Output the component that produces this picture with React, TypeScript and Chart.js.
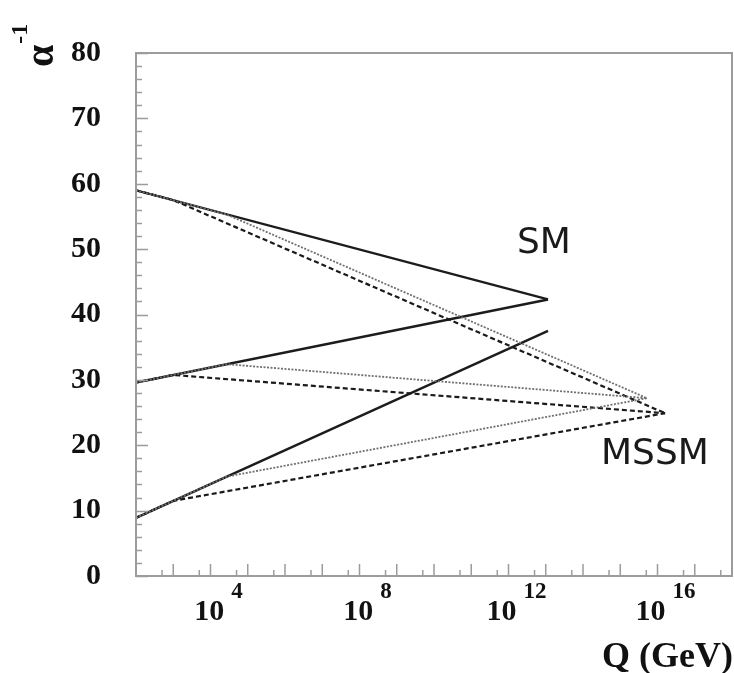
import React, { useEffect, useRef } from "react";
import { Chart, registerables } from "chart.js";

Chart.register(...registerables);

// Energy scale Q (GeV) of line vertices
const smQ = [1e2, 1.15e13];
const smInv1 = [59.0, 42.3];
const smInv2 = [29.6, 42.3];
const smInv3 = [8.9, 37.5];

// MSSM, threshold ~1 TeV (dashed)
const mssmDashQ = [1e2, 1e3, 1.6e16];
const mssmDash1 = [59.0, 57.5, 24.9];
const mssmDash2 = [29.6, 30.75, 24.9];
const mssmDash3 = [8.9, 11.5, 24.9];

// MSSM, higher threshold (dotted)
const mssmDotQ = [1e2, 2.7e4, 5.2e15];
const mssmDot1 = [59.0, 55.3, 27.2];
const mssmDot2 = [29.6, 32.4, 27.2];
const mssmDot3 = [8.9, 15.2, 27.2];

const xTickExponents = [4, 8, 12, 16];
const yTicks = [0, 10, 20, 30, 40, 50, 60, 70, 80];

const SERIF = "'Liberation Serif', 'DejaVu Serif', serif";
const SANS = "'DejaVu Sans', sans-serif";

function pts(q: number[], v: number[]) {
  return q.map((x, i) => ({ x, y: v[i] }));
}

const overlay = {
  id: "overlay",
  afterDraw(chart: any) {
    const ctx = chart.ctx as CanvasRenderingContext2D;
    const xs = chart.scales.x;
    const ys = chart.scales.y;
    const a = chart.chartArea;
    ctx.save();
    // frame
    ctx.strokeStyle = "#9c9c9c";
    ctx.lineWidth = 2;
    ctx.strokeRect(a.left, a.top, a.right - a.left, a.bottom - a.top);
    // y ticks (inward)
    ctx.lineWidth = 1.5;
    ctx.beginPath();
    for (let v = 0; v <= 80; v += 2) {
      const y = Math.round(ys.getPixelForValue(v)) + 0.5;
      const len = v % 10 === 0 ? 12 : 6;
      ctx.moveTo(a.left, y);
      ctx.lineTo(a.left + len, y);
    }
    // x ticks (inward)
    for (let e = 2; e <= 18; e++) {
      const major = xs.getPixelForValue(Math.pow(10, e));
      if (major > a.left + 1 && major < a.right - 1) {
        ctx.moveTo(major, a.bottom);
        ctx.lineTo(major, a.bottom - 12);
      }
      const minor = xs.getPixelForValue(5 * Math.pow(10, e));
      if (minor < a.right - 1) {
        ctx.moveTo(minor, a.bottom);
        ctx.lineTo(minor, a.bottom - 6);
      }
    }
    ctx.stroke();

    // x tick labels 10^n
    ctx.fillStyle = "#111";
    ctx.textBaseline = "alphabetic";
    ctx.textAlign = "left";
    for (const e of xTickExponents) {
      const px = xs.getPixelForValue(Math.pow(10, e));
      ctx.font = `bold 30px ${SERIF}`;
      const wBase = ctx.measureText("10").width;
      ctx.font = `bold 23px ${SERIF}`;
      const wExp = ctx.measureText(String(e)).width;
      const gap = 7;
      const total = wBase + gap + wExp;
      const left = px + 8 - total / 2;
      ctx.font = `bold 30px ${SERIF}`;
      ctx.fillText("10", left, 620);
      ctx.font = `bold 23px ${SERIF}`;
      ctx.fillText(String(e), left + wBase + gap, 598);
    }

    // axis titles
    ctx.font = `bold 36px ${SERIF}`;
    ctx.textAlign = "right";
    ctx.fillText("Q (GeV)", 733, 667);

    ctx.save();
    ctx.translate(53, 67);
    ctx.rotate(-Math.PI / 2);
    ctx.textAlign = "left";
    ctx.font = `bold 40px ${SERIF}`;
    ctx.fillText("α", 0, 0);
    const wa = ctx.measureText("α").width;
    ctx.font = `bold 24px ${SERIF}`;
    ctx.fillText("-1", wa + 1, -26);
    ctx.restore();

    // annotations
    ctx.font = `36px ${SANS}`;
    ctx.textAlign = "left";
    ctx.fillStyle = "#1a1a1a";
    ctx.fillText("SM", 517, 253);
    ctx.fillText("MSSM", 601, 464);
    ctx.restore();
  },
};

export default function App() {
  const ref = useRef<HTMLCanvasElement | null>(null);
  useEffect(() => {
    if (!ref.current) return;
    const solid = { borderColor: "#1c1c1c", borderWidth: 2.4, borderDash: [] as number[] };
    const dashed = { borderColor: "#1a1a1a", borderWidth: 2.2, borderDash: [5, 3] };
    const dotted = { borderColor: "#707070", borderWidth: 1.8, borderDash: [2, 1.5] };
    const mk = (label: string, q: number[], v: number[], style: any) => ({
      label,
      data: pts(q, v),
      ...style,
      pointRadius: 0,
      fill: false,
      tension: 0,
    });
    const chart = new Chart(ref.current, {
      type: "line",
      data: {
        datasets: [
          mk("MSSM dotted 1", mssmDotQ, mssmDot1, dotted),
          mk("MSSM dotted 2", mssmDotQ, mssmDot2, dotted),
          mk("MSSM dotted 3", mssmDotQ, mssmDot3, dotted),
          mk("MSSM dashed 1", mssmDashQ, mssmDash1, dashed),
          mk("MSSM dashed 2", mssmDashQ, mssmDash2, dashed),
          mk("MSSM dashed 3", mssmDashQ, mssmDash3, dashed),
          mk("SM 1", smQ, smInv1, solid),
          mk("SM 2", smQ, smInv2, solid),
          mk("SM 3", smQ, smInv3, solid),
        ],
      },
      options: {
        responsive: false,
        animation: false,
        parsing: true,
        layout: { padding: { top: 20, right: 2, left: 0, bottom: 0 } },
        plugins: { legend: { display: false }, tooltip: { enabled: false } },
        scales: {
          x: {
            type: "logarithmic",
            min: 1e2,
            max: 1e18,
            ticks: { display: false },
            grid: { display: false, drawTicks: false },
            border: { display: false },
            afterFit: (s: any) => {
              s.height = 97;
            },
          },
          y: {
            type: "linear",
            min: 0,
            max: 80,
            afterBuildTicks: (s: any) => {
              s.ticks = yTicks.map((v) => ({ value: v }));
            },
            ticks: {
              padding: 35,
              color: "#111",
              font: { family: SERIF, weight: "bold", size: 30 },
            },
            grid: { display: false, drawTicks: false },
            border: { display: false },
            afterFit: (s: any) => {
              s.width = 136;
            },
          },
        },
      },
      plugins: [overlay],
    } as any);
    return () => chart.destroy();
  }, []);
  return (
    <div style={{ position: "absolute", left: 0, top: 0, width: 734, height: 673, background: "#fff" }}>
      <canvas ref={ref} width={734} height={673} style={{ display: "block" }} />
    </div>
  );
}
